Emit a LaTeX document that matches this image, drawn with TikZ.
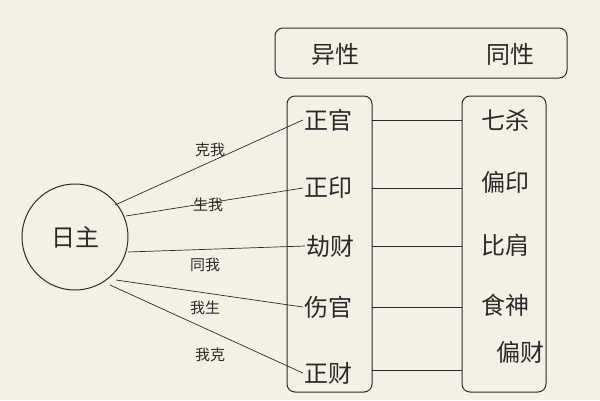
\documentclass[tikz,border=0pt]{standalone}
\usepackage{fontspec}
\newfontfamily\cjk{Noto Sans CJK SC}
\definecolor{paper}{HTML}{F4F0E6}
\definecolor{ink}{HTML}{2A2A2A}
\tikzset{
  big/.style={font=\cjk\fontsize{24}{26}\selectfont, text=ink, inner sep=1pt},
  small/.style={font=\cjk\fontsize{15}{17}\selectfont, text=ink, inner sep=1pt},
  frame/.style={draw=ink, line width=1pt, rounded corners=8pt},
  link/.style={draw=ink, line width=0.7pt}
}
\begin{document}
\begin{tikzpicture}[x=1pt,y=-1pt]
\fill[paper] (0,0) rectangle (600,400);
\useasboundingbox (0,0) rectangle (600,400);

\draw[frame] (275,28) rectangle (567,78);
\node(YIXING)[big] at (335,54) {异性};
\node(TONGXING)[big] at (510,54) {同性};

\draw[frame] (287,96) rectangle (372,392);
\draw[frame] (462,96) rectangle (546,392);

\draw[ink, line width=1pt] (75,237) circle (53);
\node(RIZHU)[big] at (75,237) {日主};

\node(ZG)[big] at (328,120) {正官};
\node(ZY)[big] at (328,188) {正印};
\node(JC)[big] at (330,246) {劫财};
\node(SG)[big] at (328,307) {伤官};
\node(ZC)[big] at (328,373) {正财};

\node(QS)[big] at (505,120) {七杀};
\node(PY)[big] at (505,182) {偏印};
\node(BJ)[big] at (505,245) {比肩};
\node(SS)[big] at (505,305) {食神};
\node(PC)[big] at (520,352) {偏财};

\coordinate (C1) at (115,205);
\coordinate (C2) at (126,216);
\coordinate (C3) at (128,252);
\coordinate (C4) at (116,280);
\coordinate (C5) at (110,285);

\draw[link] (C1) -- (ZG.west);
\draw[link] (C2) -- (ZY.west);
\draw[link] (C3) -- (JC.west);
\draw[link] (C4) -- (SG.west);
\draw[link] (C5) -- (ZC.west);

\node(KEWO)[small] at (210,150) {克我};
\node(SHENGWO)[small] at (208,205) {生我};
\node(TONGWO)[small] at (205,265) {同我};
\node(WOSHENG)[small] at (205,308) {我生};
\node(WOKE)[small] at (210,355) {我克};

\draw[link] (372,120) -- (462,120);
\draw[link] (372,188) -- (462,188);
\draw[link] (372,246) -- (462,246);
\draw[link] (372,307) -- (462,307);
\draw[link] (372,370) -- (462,370);

\end{tikzpicture}
\end{document}
